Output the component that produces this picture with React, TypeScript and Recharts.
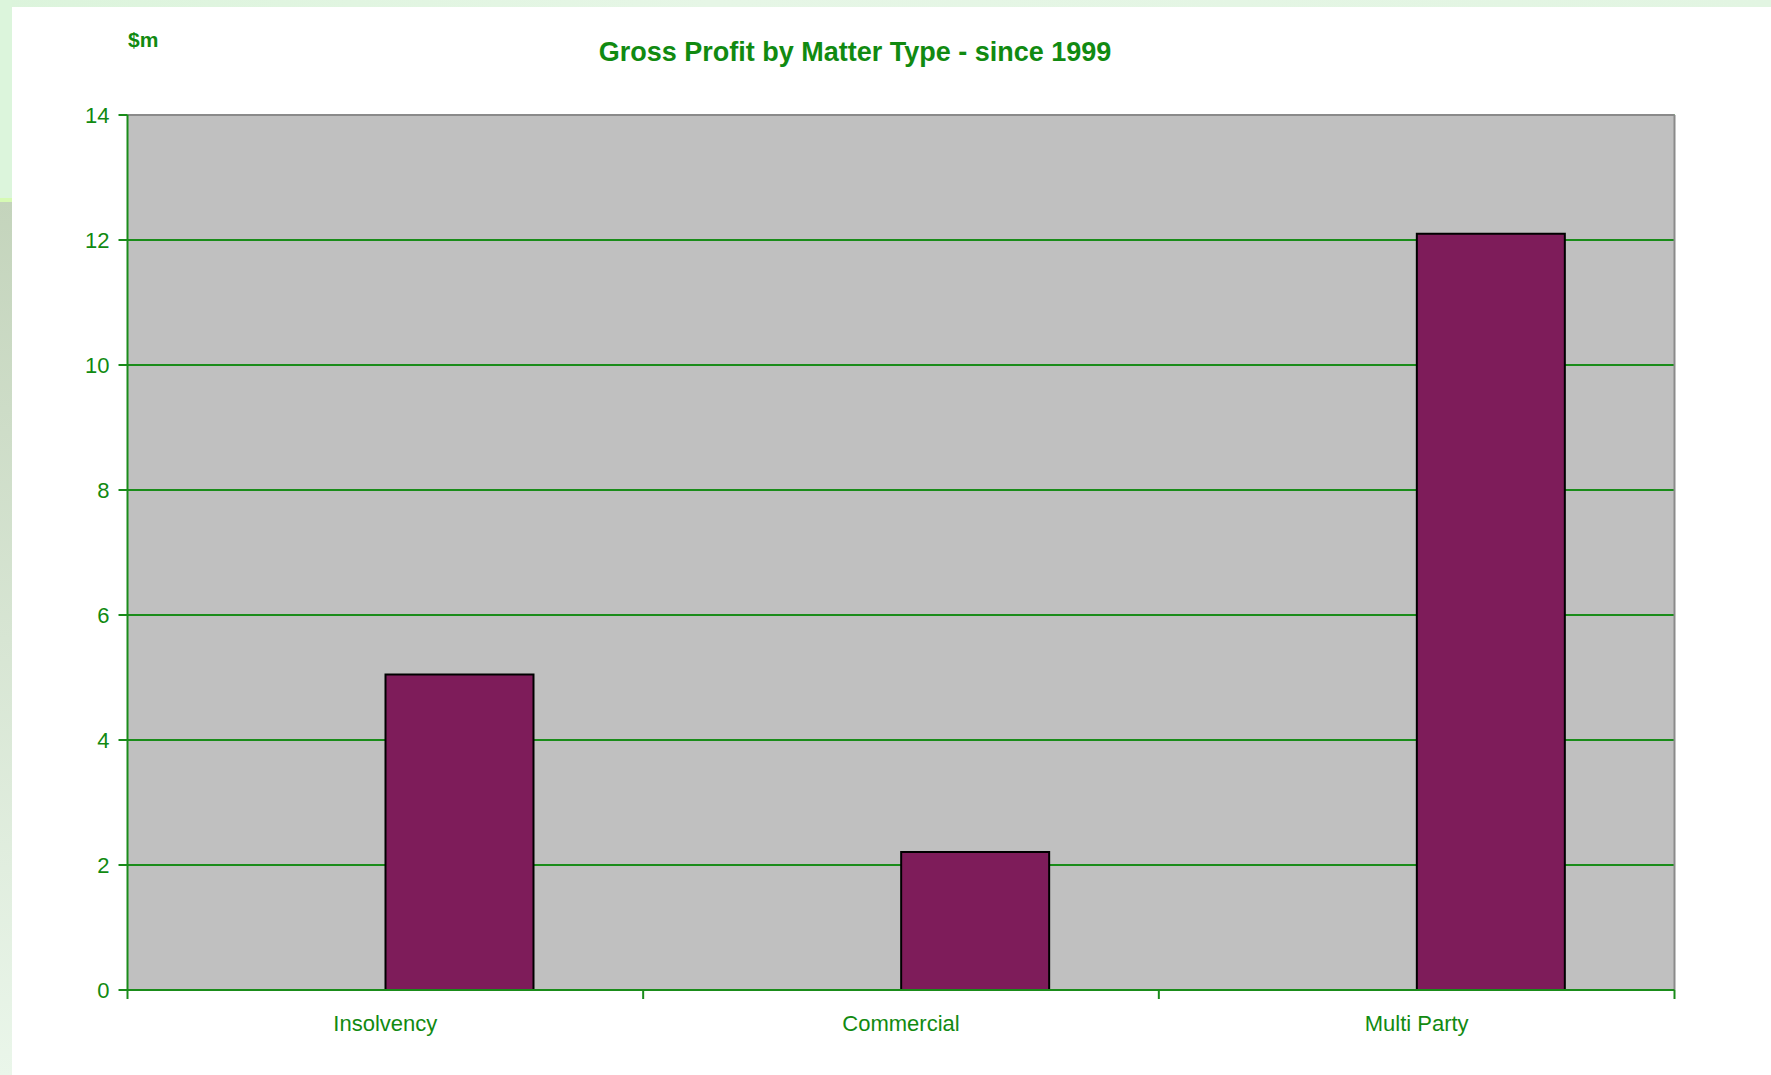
import { ComposedChart, Bar, XAxis, YAxis, CartesianGrid, ReferenceLine } from 'recharts'

const categories = ['Insolvency', 'Commercial', 'Multi Party']
const grossProfit = [5.05, 2.21, 12.1] // $m
const emptySeries = [null, null, null] // blank first series, as in the original sheet
const yTicks = [0, 2, 4, 6, 8, 10, 12, 14]
const boundaryTicks = [0, 1, 2, 3]

const GREEN_TEXT = '#118a11'
const GREEN_LINE = '#1a8c1a'
const FONT = '"Liberation Sans", Arial, Helvetica, sans-serif'

const data = categories.map((name, i) => ({
  name,
  idx: i,
  blank: emptySeries[i],
  value: grossProfit[i],
}))

const NoLabel = () => <g />

export default function App() {
  return (
    <div style={{ position: 'absolute', left: 0, top: 0, width: 1771, height: 1075, background: '#fff', overflow: 'hidden', fontFamily: FONT }}>
      {/* slide background strips */}
      <div style={{ position: 'absolute', left: 0, top: 0, width: 1771, height: 7, background: 'linear-gradient(to right, #dcf4dc, #e6f6e6 40%, #e2f5e2)' }} />
      <div
        style={{
          position: 'absolute', left: 0, top: 0, width: 12, height: 1075,
          background: 'linear-gradient(to bottom, #dcf5dc 0px, #dcf5dc 198px, #d6fab4 198px, #d6fab4 202px, #c4d4bc 202px, #eaf6ea 1075px)',
        }}
      />

      <div style={{ position: 'absolute', left: 128, top: 28, fontSize: 21, fontWeight: 700, color: GREEN_TEXT }}>$m</div>
      <div style={{ position: 'absolute', left: 0, width: 1710, top: 37, textAlign: 'center', fontSize: 27, fontWeight: 700, color: GREEN_TEXT }}>
        Gross Profit by Matter Type - since 1999
      </div>

      <div style={{ position: 'absolute', left: 0, top: 0 }}>
        <ComposedChart width={1771} height={1075} data={data} margin={{ top: 115, right: 96.5, bottom: 44, left: 67.5 }} barGap={0} barSize={148}>
          <CartesianGrid xAxisId="b" vertical={false} stroke={GREEN_LINE} strokeWidth={2} fill="#c0c0c0" fillOpacity={1} />
          {/* category boundary ticks + axis line, closest to the plot */}
          <XAxis
            xAxisId="a"
            dataKey="idx"
            type="number"
            domain={[0, 3]}
            allowDataOverflow
            ticks={boundaryTicks}
            interval={0}
            height={1}
            tick={NoLabel}
            tickSize={9}
            tickLine={{ stroke: GREEN_LINE, strokeWidth: 2 }}
            axisLine={{ stroke: GREEN_LINE, strokeWidth: 2 }}
          />
          {/* category labels */}
          <XAxis
            xAxisId="b"
            dataKey="name"
            height={40}
            axisLine={false}
            tickLine={false}
            tickSize={0}
            tickMargin={24}
            interval={0}
            tick={{ fill: GREEN_TEXT, fontSize: 22, fontFamily: FONT }}
          />
          <YAxis
            domain={[0, 14]}
            ticks={yTicks}
            interval={0}
            width={60}
            tickSize={9}
            tickMargin={9}
            tickLine={{ stroke: GREEN_LINE, strokeWidth: 2 }}
            axisLine={{ stroke: GREEN_LINE, strokeWidth: 2 }}
            tick={{ fill: GREEN_TEXT, fontSize: 22, fontFamily: FONT }}
          />
          <ReferenceLine xAxisId="b" y={14} stroke="#8a8a8a" strokeWidth={2} />
          <ReferenceLine xAxisId="a" x={3} stroke="#8a8a8a" strokeWidth={2} />
          <Bar xAxisId="b" dataKey="blank" fill="#7e1c5a" isAnimationActive={false} />
          <Bar xAxisId="b" dataKey="value" fill="#7e1c5a" stroke="#000" strokeWidth={2} isAnimationActive={false} />
        </ComposedChart>
      </div>
    </div>
  )
}
